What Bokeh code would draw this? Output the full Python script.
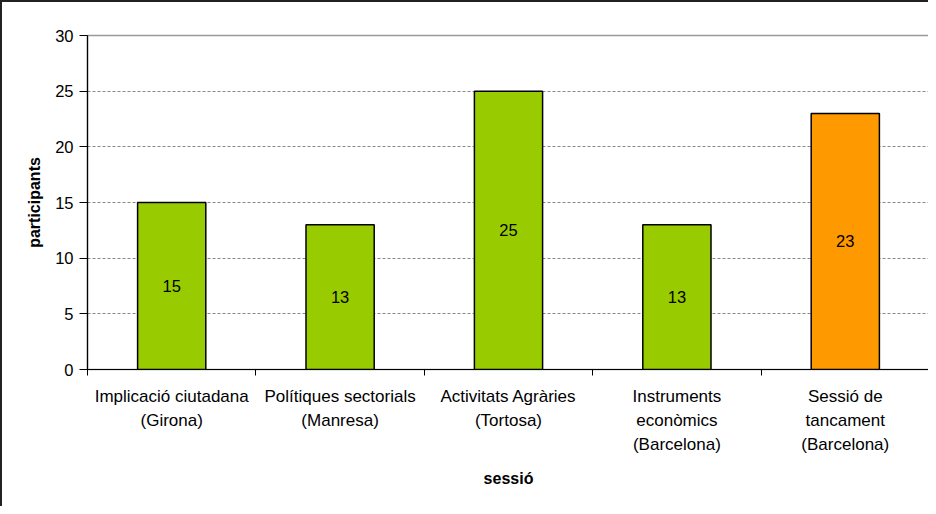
from bokeh.plotting import figure
from bokeh.models import Range1d, FixedTicker, ColumnDataSource
from bokeh.core.properties import value
from bokeh.embed import file_html
from bokeh.resources import INLINE

categories = [
    "Implicació ciutadana\n(Girona)",
    "Polítiques sectorials\n(Manresa)",
    "Activitats Agràries\n(Tortosa)",
    "Instruments\neconòmics\n(Barcelona)",
    "Sessió de\ntancament\n(Barcelona)",
]
participants = [15, 13, 25, 13, 23]
y_ticks = [0, 5, 10, 15, 20, 25, 30]

n = len(categories)
centers = [i + 0.5 for i in range(n)]
colors = ["#99CC00"] * (n - 1) + ["#FF9900"]

src = ColumnDataSource(dict(
    x=centers,
    top=participants,
    mid=[v / 2 for v in participants],
    lbl=[str(v) for v in participants],
    color=colors,
))

FONT = "Liberation Sans"

p = figure(width=928, height=506, output_backend="svg", toolbar_location=None,
           x_range=Range1d(0, n), y_range=Range1d(0, 30),
           min_border_left=85, min_border_right=1, min_border_top=33, min_border_bottom=139)
p.styles = {"border-left": "2px solid #222", "border-top": "2px solid #222"}

p.outline_line_color = "#999999"
p.outline_line_width = 1.5

p.vbar(x="x", top="top", width=0.405, source=src, fill_color="color",
       line_color="black", line_width=1.5)
p.text(x="x", y="mid", text="lbl", source=src, text_align="center",
       text_baseline="middle", text_font=value(FONT), text_font_size="16.5px",
       text_color="black")

# y axis
p.yaxis.ticker = FixedTicker(ticks=y_ticks)
p.yaxis.minor_tick_line_color = None
p.yaxis.major_tick_in = 0
p.yaxis.major_tick_out = 8
p.yaxis.major_tick_line_color = "black"
p.yaxis.axis_line_color = "black"
p.yaxis.axis_line_width = 1.2
p.yaxis.major_label_text_font = FONT
p.yaxis.major_label_text_font_size = "16.5px"
p.yaxis.major_label_text_color = "black"
p.yaxis.major_label_standoff = 6
p.yaxis.axis_label = "participants"
p.yaxis.axis_label_text_font = FONT
p.yaxis.axis_label_text_font_size = "16px"
p.yaxis.axis_label_text_font_style = "bold"
p.yaxis.axis_label_text_color = "black"
p.yaxis.axis_label_standoff = 9

# x axis
p.xaxis.ticker = FixedTicker(ticks=centers, minor_ticks=list(range(n + 1)))
p.xaxis.major_label_overrides = {c: lab for c, lab in zip(centers, categories)}
p.xaxis.major_tick_out = 0
p.xaxis.major_tick_in = 0
p.xaxis.minor_tick_in = 0
p.xaxis.minor_tick_out = 6
p.xaxis.minor_tick_line_color = "black"
p.xaxis.axis_line_color = "black"
p.xaxis.axis_line_width = 1.2
p.xaxis.major_label_text_font = FONT
p.xaxis.major_label_text_font_size = "17px"
p.xaxis.major_label_text_color = "black"
p.xaxis.major_label_text_line_height = 1.27
p.xaxis.major_label_standoff = 11
p.xaxis.axis_label = "sessió"
p.xaxis.axis_label_text_font = FONT
p.xaxis.axis_label_text_font_size = "16px"
p.xaxis.axis_label_text_font_style = "bold"
p.xaxis.axis_label_text_color = "black"
p.xaxis.axis_label_standoff = 13

p.xgrid.grid_line_color = None
p.ygrid.ticker = FixedTicker(ticks=y_ticks)
p.ygrid.grid_line_color = "#888888"
p.ygrid.grid_line_dash = "3 2"
p.ygrid.grid_line_width = 1

open("out.html", "w").write(file_html(p, INLINE))
